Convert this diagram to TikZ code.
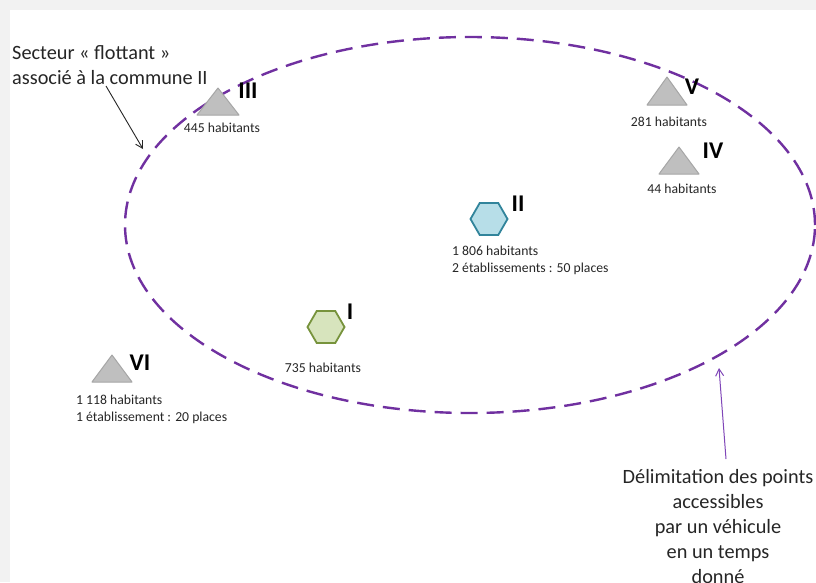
\documentclass[tikz,border=0pt]{standalone}
\usepackage{fontspec}
\setmainfont{Carlito}
\usetikzlibrary{shapes.geometric,arrows.meta}
\definecolor{zonepurple}{HTML}{7030A0}
\definecolor{arrowpurple}{HTML}{7F45B8}
\definecolor{trifill}{HTML}{BFBFBF}
\definecolor{triline}{HTML}{A6A6A6}
\definecolor{hexbluefill}{HTML}{B7DEE8}
\definecolor{hexblueline}{HTML}{31849B}
\definecolor{hexgreenfill}{HTML}{D7E4BD}
\definecolor{hexgreenline}{HTML}{77933C}
\definecolor{bggray}{HTML}{F2F2F2}
\definecolor{txtcol}{HTML}{262626}
\begin{document}
\begin{tikzpicture}[x=1pt,y=-1pt,
 smalltxt/.style={font=\fontsize{13.7}{17}\selectfont, inner sep=0pt, align=left, text=txtcol},
 bigtxt/.style={font=\fontsize{20.3}{25}\selectfont, inner sep=0pt, text=txtcol},
 roman/.style={font=\fontsize{24}{24}\selectfont\bfseries, inner sep=0pt},
 tri/.style={fill=trifill, draw=triline, line width=1pt, line join=round},
 hexa/.style={regular polygon, regular polygon sides=6, minimum size=37pt, inner sep=0pt, line width=1.8pt},
]
\useasboundingbox (0,0) rectangle (816,582);
\clip (0,0) rectangle (816,582);
\fill[bggray] (0,0) rectangle (816,582);
\fill[white] (10,10) rectangle (816,582);

% zone
\node[ellipse, draw=zonepurple, line width=2.4pt, dash pattern=on 17pt off 9pt,
      minimum width=690pt, minimum height=376pt, inner sep=0pt] (zone) at (470,225) {};

% triangles
\draw[tri] (197,115) -- (218,88) -- (239,115) -- cycle;
\draw[tri] (647,105) -- (667,77) -- (687,105) -- cycle;
\draw[tri] (659,174) -- (679,147) -- (699,174) -- cycle;
\draw[tri] (92,382) -- (112,355) -- (132,382) -- cycle;

% hexagons
\node[hexa, fill=hexbluefill, draw=hexblueline] (hexII) at (489,219) {};
\node[hexa, fill=hexgreenfill, draw=hexgreenline] (hexI) at (326,327) {};

% roman labels
\node[roman] (labIII) at (248,91) {III};
\node[roman] (labV) at (692,87) {V};
\node[roman] (labIV) at (713,151) {IV};
\node[roman] (labVI) at (140,363) {VI};
\node[roman] (labII) at (518,204) {II};
\node[roman] (labI) at (350,312) {I};

% small texts
\node[smalltxt] (txtIII) at (222,128) {445 habitants};
\node[smalltxt] (txtV) at (669,122) {281 habitants};
\node[smalltxt] (txtIV) at (682,189) {44 habitants};
\node[smalltxt, anchor=west] (txtVI) at (76,409) {1 118 habitants\\1 établissement : 20 places};
\node[smalltxt, anchor=west] (txtII) at (452,260) {1 806 habitants\\2 établissements : 50 places};
\node[smalltxt] (txtI) at (323,368) {735 habitants};

% big texts
\node[bigtxt, align=left, anchor=west] (secteur) at (12,65) {Secteur « flottant »\\associé à la commune II};
\node[bigtxt, align=center] (delim) at (718,527) {Délimitation des points\\accessibles\\par un véhicule\\en un temps\\donné};

% arrows
\coordinate (blackstart) at (106,86);
\coordinate (blacktip) at (143,149);
\draw[-{Straight Barb[length=7pt,width=8pt]}, line width=0.9pt, draw=txtcol] (blackstart) -- (blacktip);
\coordinate (purplestart) at (726,459);
\coordinate (purpletip) at (719,368);
\draw[-{Straight Barb[length=7pt,width=8pt]}, line width=1pt, draw=arrowpurple] (purplestart) -- (purpletip);
\end{tikzpicture}
\end{document}
